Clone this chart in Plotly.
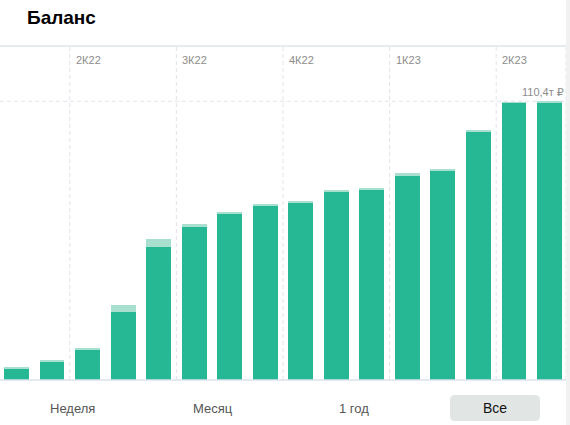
import plotly.graph_objects as go

months = ["2022-02", "2022-03", "2022-04", "2022-05", "2022-06", "2022-07", "2022-08",
          "2022-09", "2022-10", "2022-11", "2022-12", "2023-01", "2023-02", "2023-03",
          "2023-04", "2023-05"]
base_values = [4.75, 7.25, 12.0, 27.1, 52.8, 60.6, 65.6, 69.3, 70.25, 74.75, 75.3,
               80.9, 82.9, 98.25, 109.9, 110.1]
extra_values = [0.4, 0.4, 0.7, 2.6, 3.1, 1.2, 1.1, 0.15, 0.65, 0.25, 0.9,
                1.0, 0.3, 0.8, 0.2, 0.3]
quarter_labels = ["2К22", "3К22", "4К22", "1К23", "2К23"]
quarter_starts = [1.5, 4.5, 7.5, 10.5, 13.5]
max_value = 110.4
max_label = "110,4т ₽"
buttons = ["Неделя", "Месяц", "1 год", "Все"]
active_button = "Все"

W, H = 570, 425
L, R, T, B = 0, 4, 46, 45
plot_w = W - L - R
plot_h = H - T - B

x = list(range(len(months)))
xr = [-0.464, len(months) - 1 + 0.464]
yr = [0, 132.3]

dark = "#26b794"
light = "#a8dfce"
FONT = "Liberation Sans, Arial, DejaVu Sans"

fig = go.Figure()
fig.add_bar(x=x, y=base_values, marker=dict(color=dark, line=dict(width=0)),
            hoverinfo="skip")
fig.add_bar(x=x, y=extra_values, marker=dict(color=light, line=dict(width=0)),
            hoverinfo="skip")

shapes = []
annotations = []
grid_color = "#e2e4e8"
for q, lab in zip(quarter_starts, quarter_labels):
    shapes.append(dict(type="line", xref="x", yref="paper", x0=q, x1=q, y0=0, y1=1,
                       line=dict(color=grid_color, width=1, dash="4px,3px"), layer="below"))
    annotations.append(dict(x=q, y=1, xref="x", yref="paper", text=lab, showarrow=False,
                            xanchor="left", yanchor="top", xshift=4, yshift=-6,
                            font=dict(family=FONT, size=11, color="#8c8c8c")))
# right edge dashed line
shapes.append(dict(type="line", xref="paper", yref="paper", x0=1, x1=1, y0=0, y1=1,
                   line=dict(color=grid_color, width=1, dash="4px,3px"), layer="below"))
# max horizontal dashed line
shapes.append(dict(type="line", xref="paper", yref="y", x0=0, x1=1, y0=max_value, y1=max_value,
                   line=dict(color=grid_color, width=1, dash="4px,3px"), layer="below"))
annotations.append(dict(x=1, y=max_value, xref="paper", yref="y", text=max_label,
                        showarrow=False, xanchor="right", yanchor="bottom", xshift=0, yshift=1,
                        font=dict(family=FONT, size=11, color="#8c8c8c")))
# top solid line
shapes.append(dict(type="line", xref="paper", yref="paper", x0=0, x1=1, y0=1, y1=1,
                   line=dict(color="#dfe4ec", width=1.5)))
# baseline
shapes.append(dict(type="line", xref="paper", yref="paper", x0=0, x1=1, y0=0, y1=0,
                   line=dict(color="#dbe2ee", width=1.5)))
# right scrollbar strip
shapes.append(dict(type="rect", xref="paper", yref="paper",
                   x0=(566 - L) / plot_w, x1=(570 - L) / plot_w,
                   y0=(T + plot_h - H) / plot_h, y1=(T + plot_h) / plot_h,
                   fillcolor="#f1f1f1", line=dict(width=0), layer="below"))

def px_to_paper_x(px):
    return (px - L) / plot_w

def py_to_paper_y(py):
    return (T + plot_h - py) / plot_h

# active button background (rounded rect)
bx0, bx1, by0, by1, r = 450, 540, 395, 421, 5
px = px_to_paper_x
py = py_to_paper_y
path = (f"M {px(bx0 + r)},{py(by0)} L {px(bx1 - r)},{py(by0)} "
        f"Q {px(bx1)},{py(by0)} {px(bx1)},{py(by0 + r)} L {px(bx1)},{py(by1 - r)} "
        f"Q {px(bx1)},{py(by1)} {px(bx1 - r)},{py(by1)} L {px(bx0 + r)},{py(by1)} "
        f"Q {px(bx0)},{py(by1)} {px(bx0)},{py(by1 - r)} L {px(bx0)},{py(by0 + r)} "
        f"Q {px(bx0)},{py(by0)} {px(bx0 + r)},{py(by0)} Z")
shapes.append(dict(type="path", xref="paper", yref="paper", path=path,
                   fillcolor="#e1e5e4", line=dict(width=0)))

button_centers = [72, 213, 354, 495]
for b, cx in zip(buttons, button_centers):
    active = b == active_button
    annotations.append(dict(x=px(cx), y=py(408), xref="paper", yref="paper", text=b,
                            showarrow=False, xanchor="center", yanchor="middle",
                            font=dict(family=FONT, size=14 if active else 13,
                                      color="#111111" if active else "#555555")))

# title
annotations.append(dict(x=px(25), y=py(17), xref="paper", yref="paper", text="<b>Баланс</b>",
                        showarrow=False, xanchor="left", yanchor="middle",
                        font=dict(family=FONT, size=19, color="#000000")))

fig.update_layout(
    width=W, height=H,
    margin=dict(l=L, r=R, t=T, b=B),
    barmode="stack", bargap=0.3,
    showlegend=False,
    paper_bgcolor="white", plot_bgcolor="white",
    xaxis=dict(range=xr, showgrid=False, zeroline=False, showticklabels=False, ticks="",
               fixedrange=True),
    yaxis=dict(range=yr, showgrid=False, zeroline=False, showticklabels=False, ticks="",
               fixedrange=True),
    shapes=shapes, annotations=annotations,
)

fig.write_html("out.html", config={"displayModeBar": False},
               post_script="document.body.style.margin='0';document.body.style.overflow='hidden';")
